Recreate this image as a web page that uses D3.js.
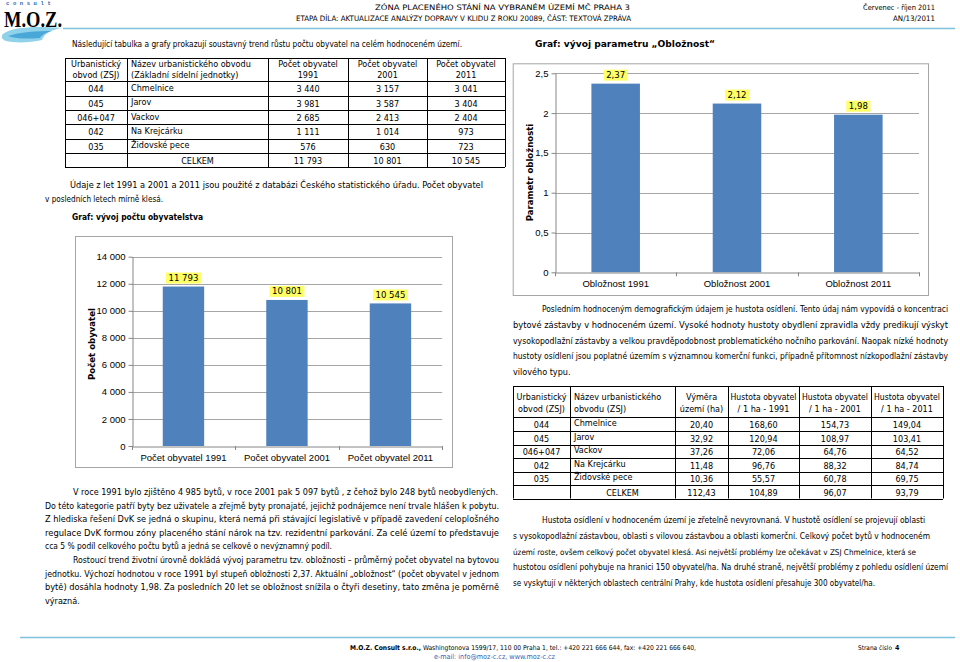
<!DOCTYPE html>
<html><head><meta charset="utf-8">
<script src="https://cdn.jsdelivr.net/npm/d3@7"></script>
<style>
body{margin:0;background:#fff;}
svg{display:block;font-family:"DejaVu Sans Condensed","Liberation Sans",sans-serif;}
</style></head><body>
<svg id="page" width="960" height="662"></svg>
<script>
// ---------- DATA ----------
const popCategories = ["Počet obyvatel 1991", "Počet obyvatel 2001", "Počet obyvatel 2011"];
const popValues = [11793, 10801, 10545];
const popTicks = [0, 2000, 4000, 6000, 8000, 10000, 12000, 14000];

const occCategories = ["Obložnost 1991", "Obložnost 2001", "Obložnost 2011"];
const occValues = [2.37, 2.12, 1.98];
const occTicks = [0, 0.5, 1, 1.5, 2, 2.5];

const zsjCodes = ["044", "045", "046+047", "042", "035"];
const zsjNames = ["Chmelnice", "Jarov", "Vackov", "Na Krejcárku", "Židovské pece"];
const pop1991 = [3440, 3981, 2685, 1111, 576];
const pop2001 = [3157, 3587, 2413, 1014, 630];
const pop2011 = [3041, 3404, 2404, 973, 723];
const popTotals = [11793, 10801, 10545];
const areaHa = [20.40, 32.92, 37.26, 11.48, 10.36];
const dens1991 = [168.60, 120.94, 72.06, 96.76, 55.57];
const dens2001 = [154.73, 108.97, 64.76, 88.32, 60.78];
const dens2011 = [149.04, 103.41, 64.52, 84.74, 69.75];
const densTotals = [112.43, 104.89, 96.07, 93.79];

const introLine = "Následující tabulka a grafy prokazují soustavný trend růstu počtu obyvatel na celém hodnoceném území.";
const sourceLines = ["Údaje z let 1991 a 2001 a 2011 jsou použité z databázi Českého statistického úřadu. Počet obyvatel",
                     "v posledních letech mírně klesá."];
const leftParagraph = [
 "V roce 1991 bylo zjištěno 4 985 bytů, v roce 2001 pak  5 097 bytů , z čehož bylo 248 bytů neobydlených.",
 "Do této kategorie patří byty bez uživatele a zřejmě byty pronajaté, jejichž podnájemce není trvale hlášen k pobytu.",
 "Z hlediska řešení DvK se jedná o skupinu, která nemá při stávající legislativě v případě zavedení celoplošného",
 "regulace DvK formou zóny placeného stání nárok na tzv. rezidentní parkování. Za celé území to představuje",
 "cca 5 % podíl celkového počtu bytů a jedná se celkově o nevýznamný podíl.",
 "Rostoucí trend životní úrovně dokládá vývoj parametru tzv. obložnosti – průměrný počet obyvatel na bytovou",
 "jednotku. Výchozí hodnotou v roce 1991 byl stupeň obložnosti 2,37. Aktuální „obložnost“ (počet obyvatel v jednom",
 "bytě) dosáhla hodnoty 1,98. Za posledních 20 let se obložnost snížila o čtyři desetiny, tato změna je poměrně",
 "výrazná."];
const rightParagraph1 = [
 "Posledním hodnoceným demografickým údajem je hustota osídlení. Tento údaj nám vypovídá o koncentraci",
 "bytové zástavby v hodnoceném území. Vysoké hodnoty hustoty obydlení zpravidla vždy predikují výskyt",
 "vysokopodlažní zástavby a velkou pravděpodobnost problematického nočního parkování. Naopak nízké hodnoty",
 "hustoty osídlení jsou poplatné územím s významnou komerční funkci, případně přítomnost nízkopodlažní zástavby",
 "vilového typu."];
const rightParagraph2 = [
 "Hustota osídlení v hodnoceném území je zřetelně nevyrovnaná. V hustotě osídlení se projevují oblasti",
 "s vysokopodlažní zástavbou, oblasti s vilovou zástavbou a oblasti komerční. Celkový počet bytů v hodnoceném",
 "území roste, ovšem celkový počet obyvatel klesá. Asi největší problémy lze očekávat v ZSJ Chmelnice, která se",
 "hustotou osídlení pohybuje na hranici 150 obyvatel/ha. Na druhé straně, největší problémy z pohledu osídlení území",
 "se vyskytují v některých oblastech centrální Prahy, kde hustota osídlení přesahuje 300 obyvatel/ha."];

// ---------- SETUP ----------
const cz = d3.formatLocale({decimal: ",", thousands: " ", grouping: [3], currency: ["", " Kč"]});
const fInt = cz.format(",d");
const f2 = cz.format(",.2f");
const fDec = cz.format("~g");
const svg = d3.select("#page");
const BLUE = "#4f81bd";

function txt(g, x, y, s, o = {}) {
  let size = o.size || 9;
  const t = g.append("text").attr("x", x).attr("y", y).text(s)
    .attr("font-size", size).attr("fill", o.fill || "#000")
    .attr("text-anchor", o.anchor || "start");
  if (o.weight) t.attr("font-weight", o.weight);
  if (o.family) t.attr("font-family", o.family);
  if (o.len) {
    const nat = t.node().getComputedTextLength();
    if (!o.keep && nat > o.len) { size = size * o.len / nat * 0.995; t.attr("font-size", size); }
    t.attr("textLength", o.len).attr("lengthAdjust", "spacingAndGlyphs");
  }
  return t;
}

// ---------- HEADER ----------
const hdr = svg.append("g");
hdr.append("path").attr("d", "M3,34 C12,27 35,26 62,28 C50,30 44,34 42,40 C30,43 14,43 6,41 C1,39 1,36 3,34 Z").attr("fill", "#8fd2ea");
hdr.append("path").attr("d", "M8,36 C20,32 36,31 52,31 C44,33 41,36 40,38 C28,39 16,39 8,36 Z").attr("fill", "#4aa8d8");
txt(hdr, 6, 4.6, "consult", {size: 5.5, fill: "#2a62b3", weight: "bold", family: "Liberation Mono"}).attr("letter-spacing", 3.6);
txt(hdr, 4, 27, "M.O.Z.", {size: 23.5, weight: "bold", family: "Liberation Serif", len: 58, keep: true});
txt(hdr, 630, 10, "ZÓNA PLACENÉHO STÁNÍ NA VYBRANÉM ÚZEMÍ MČ PRAHA 3", {size: 7.5, anchor: "end", len: 255});
txt(hdr, 631, 21, "ETAPA DÍLA:  AKTUALIZACE ANALÝZY DOPRAVY V KLIDU Z ROKU 20089, ČÁST: TEXTOVÁ ZPRÁVA", {size: 7.5, anchor: "end", len: 335});
txt(hdr, 935, 10, "Červenec - říjen 2011", {size: 7.5, anchor: "end", len: 72});
txt(hdr, 935, 21, "AN/13/2011", {size: 7.5, anchor: "end", len: 42});
hdr.append("line").attr("x1", 63).attr("x2", 955).attr("y1", 28.5).attr("y2", 28.5).attr("stroke", "#7cc3dc").attr("stroke-width", 1.5);

// ---------- TEXT BLOCKS ----------
const tb = svg.append("g");
txt(tb, 72, 46.5, introLine, {len: 390});
txt(tb, 535, 46.5, "Graf: vývoj parametru „Obložnost“", {weight: "bold", len: 180});
txt(tb, 70, 188, sourceLines[0], {len: 413});
txt(tb, 45, 202, sourceLines[1], {len: 118});
txt(tb, 72, 220, "Graf: vývoj počtu obyvatelstva", {weight: "bold", len: 131});

const leftSpec = [[73, 425], [45, 454], [45, 454], [45, 454], [45, 287], [73, 426], [45, 454], [45, 454], [45, 0]];
leftParagraph.forEach((s, i) => txt(tb, leftSpec[i][0], 495 + i * 13.6, s, {len: leftSpec[i][1] || undefined}));
const r1Spec = [[542, 406], [513, 435], [513, 435], [513, 435], [513, 0]];
rightParagraph1.forEach((s, i) => txt(tb, r1Spec[i][0], 312 + i * 15.8, s, {len: r1Spec[i][1] || undefined}));
const r2Spec = [[542, 383], [513, 417], [513, 403], [513, 435], [513, 362]];
rightParagraph2.forEach((s, i) => txt(tb, r2Spec[i][0], 523 + i * 15.8, s, {len: r2Spec[i][1]}));

// ---------- TABLES ----------
function drawGrid(g, cols, rows) {
  rows.forEach(y => g.append("line").attr("x1", cols[0]).attr("x2", cols[cols.length - 1])
    .attr("y1", Math.round(y) + 0.5).attr("y2", Math.round(y) + 0.5).attr("stroke", "#000"));
  cols.forEach(x => g.append("line").attr("x1", Math.round(x) + 0.5).attr("x2", Math.round(x) + 0.5)
    .attr("y1", rows[0]).attr("y2", rows[rows.length - 1]).attr("stroke", "#000"));
}
// left table
const t1 = svg.append("g");
const c1 = [65, 127, 268, 348, 427, 505];
const r1 = [58, 81, 95.5, 110, 124, 138.5, 153, 167];
drawGrid(t1, c1, r1);
const mid1 = i => (c1[i] + c1[i + 1]) / 2;
txt(t1, mid1(0), 67, "Urbanistický", {anchor: "middle"}); txt(t1, mid1(0), 78, "obvod (ZSJ)", {anchor: "middle"});
txt(t1, 131, 67, "Název urbanistického obvodu");
txt(t1, 131, 78, "(Základní sídelní jednotky)");
["1991", "2001", "2011"].forEach((y, k) => { txt(t1, mid1(k + 2), 67, "Počet obyvatel", {anchor: "middle"}); txt(t1, mid1(k + 2), 78, y, {anchor: "middle"}); });
zsjCodes.forEach((c, i) => {
  const top = r1[i + 1], bot = r1[i + 2], cy = (top + bot) / 2 + 4;
  txt(t1, mid1(0), cy, c, {anchor: "middle"});
  txt(t1, 131, top + 9.5, zsjNames[i]);
  [pop1991, pop2001, pop2011].forEach((arr, k) => txt(t1, mid1(k + 2), cy, fInt(arr[i]), {anchor: "middle"}));
});
{
  const cy = (r1[6] + r1[7]) / 2 + 4;
  txt(t1, mid1(1), cy, "CELKEM", {anchor: "middle"});
  popTotals.forEach((v, k) => txt(t1, mid1(k + 2), cy, fInt(v), {anchor: "middle"}));
}
// right table
const t2 = svg.append("g");
const c2 = [513, 570, 675, 728, 799, 871, 943];
const r2 = [386, 417.3, 431, 444.5, 458, 471.5, 485, 498.5];
drawGrid(t2, c2, r2);
const mid2 = i => (c2[i] + c2[i + 1]) / 2;
txt(t2, mid2(0), 400, "Urbanistický", {anchor: "middle"}); txt(t2, mid2(0), 412, "obvod (ZSJ)", {anchor: "middle"});
txt(t2, 574, 400, "Název urbanistického"); txt(t2, 574, 412, "obvodu (ZSJ)");
txt(t2, mid2(2), 400, "Výměra", {anchor: "middle"}); txt(t2, mid2(2), 412, "území (ha)", {anchor: "middle"});
["1991", "2001", "2011"].forEach((y, k) => { txt(t2, mid2(k + 3), 400, "Hustota obyvatel", {anchor: "middle", len: 66}); txt(t2, mid2(k + 3), 412, "/ 1 ha - " + y, {anchor: "middle"}); });
zsjCodes.forEach((c, i) => {
  const top = r2[i + 1], bot = r2[i + 2], cy = (top + bot) / 2 + 4;
  txt(t2, mid2(0), cy, c, {anchor: "middle"});
  txt(t2, 574, top + 8.8, zsjNames[i]);
  [areaHa, dens1991, dens2001, dens2011].forEach((arr, k) => txt(t2, mid2(k + 2), cy, f2(arr[i]), {anchor: "middle"}));
});
{
  const cy = (r2[6] + r2[7]) / 2 + 4;
  txt(t2, mid2(1), cy, "CELKEM", {anchor: "middle"});
  densTotals.forEach((v, k) => txt(t2, mid2(k + 2), cy, f2(v), {anchor: "middle"}));
}

// ---------- BAR CHARTS ----------
function barChart(cfg) {
  const g = svg.append("g");
  const [fx0, fy0, fx1, fy1] = cfg.frame;
  g.append("rect").attr("x", fx0 + 0.5).attr("y", fy0 + 0.5).attr("width", fx1 - fx0).attr("height", fy1 - fy0)
    .attr("fill", "#fff").attr("stroke", "#a6a6a6");
  const x = d3.scaleBand().domain(cfg.cats).range([cfg.x0, cfg.x1]).paddingInner(0.6).paddingOuter(0.3);
  const y = d3.scaleLinear().domain([0, d3.max(cfg.ticks)]).range([cfg.yBottom, cfg.yTop]);
  const py = v => Math.round(y(v)) + 0.5;
  g.selectAll("line.grid").data(cfg.ticks.filter(t => t > 0)).join("line").attr("class", "grid")
    .attr("x1", cfg.x0).attr("x2", cfg.x1).attr("y1", py).attr("y2", py).attr("stroke", "#a6a6a6");
  g.selectAll("rect.bar").data(cfg.vals).join("rect").attr("class", "bar")
    .attr("x", (d, i) => x(cfg.cats[i])).attr("width", x.bandwidth())
    .attr("y", d => y(d)).attr("height", d => y(0) - y(d)).attr("fill", BLUE);
  const ya = g.append("g").attr("transform", `translate(${Math.round(cfg.x0) + 0.5},0)`)
    .call(d3.axisLeft(y).tickValues(cfg.ticks).tickSize(4).tickSizeOuter(0).tickPadding(3).tickFormat(cfg.fmt));
  ya.select(".domain").attr("stroke", "#868686");
  ya.selectAll(".tick line").attr("stroke", "#868686");
  ya.selectAll(".tick text").attr("font-size", 9.5).attr("font-family", null).attr("fill", "#000");
  const xa = g.append("g").attr("transform", `translate(0,${Math.round(y(0)) + 0.5})`)
    .call(d3.axisBottom(x).tickSize(0).tickSizeOuter(0).tickPadding(8));
  xa.select(".domain").attr("stroke", "#868686");
  xa.selectAll(".tick text").attr("font-size", 9.5).attr("font-family", null).attr("fill", "#000");
  const bounds = d3.range(cfg.cats.length + 1).map(i => cfg.x0 + i * x.step());
  g.selectAll("line.xt").data(bounds).join("line").attr("class", "xt")
    .attr("x1", d => Math.round(d) + 0.5).attr("x2", d => Math.round(d) + 0.5)
    .attr("y1", y(0)).attr("y2", y(0) + 4).attr("stroke", "#868686");
  txt(g, 0, 0, cfg.title, {anchor: "middle", weight: "bold", size: 9.5})
    .attr("transform", `translate(${cfg.titleX},${cfg.titleY}) rotate(-90)`);
  const lab = g.selectAll("g.lab").data(cfg.vals).join("g").attr("class", "lab");
  lab.each(function (d, i) {
    const s = d3.select(this);
    const cx = x(cfg.cats[i]) + x.bandwidth() / 2;
    const bottom = y(d) - 3;
    const r = s.append("rect").attr("fill", "#ffff66");
    const t = txt(s, cx, bottom - 2.5, cfg.lfmt(d), {anchor: "middle", size: 9.5});
    const w = t.node().getComputedTextLength() + 5;
    r.attr("x", cx - w / 2).attr("y", bottom - 11).attr("width", w).attr("height", 11);
  });
}

barChart({frame: [75, 236, 452, 467], x0: 131.7, x1: 442.2, yTop: 256.7, yBottom: 446,
  cats: popCategories, vals: popValues, ticks: popTicks, fmt: fInt, lfmt: fInt,
  title: "Počet obyvatel", titleX: 95, titleY: 344});
barChart({frame: [512.7, 63.3, 928, 295], x0: 555, x1: 919, yTop: 73.3, yBottom: 272.3,
  cats: occCategories, vals: occValues, ticks: occTicks, fmt: fDec, lfmt: cz.format(",.2f"),
  title: "Parametr obložnosti", titleX: 533, titleY: 172.5});

// ---------- FOOTER ----------
const ft = svg.append("g");
ft.append("line").attr("x1", 20).attr("x2", 955).attr("y1", 637.5).attr("y2", 637.5).attr("stroke", "#7cc3dc").attr("stroke-width", 1.5);
const f1 = txt(ft, 350, 650, "", {size: 7});
f1.append("tspan").attr("font-weight", "bold").text("M.O.Z. Consult s.r.o.,");
f1.append("tspan").text(" Washingtonova 1599/17, 110 00 Praha 1, tel.: +420 221 666 644, fax: +420 221 666 640,");
{
  const nat = f1.node().getComputedTextLength();
  if (nat > 346) f1.attr("font-size", 7 * 346 / nat);
  f1.attr("textLength", 346).attr("lengthAdjust", "spacingAndGlyphs");
}
txt(ft, 434, 659, "e-mail: info@moz-c.cz, www.moz-c.cz", {size: 7, fill: "#2f5fb3", len: 121});
txt(ft, 858, 650, "Strana číslo", {size: 7, len: 34});
txt(ft, 895, 650, "4", {size: 7, weight: "bold"});
</script>
</body></html>
